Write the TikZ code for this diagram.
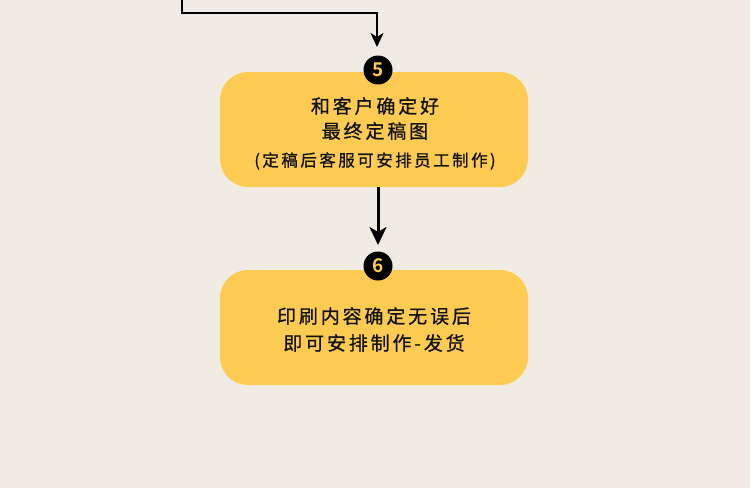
\documentclass[tikz,border=0pt]{standalone}
\usepackage{fontspec}
\newfontfamily\cjk[LetterSpace=15,FakeBold=0.8]{Noto Sans CJK SC}
\newfontfamily\cjkbold{Noto Sans CJK SC Bold}
\usetikzlibrary{arrows.meta}
\definecolor{bg}{HTML}{F0EBE3}
\definecolor{boxyellow}{HTML}{FDCB52}
\definecolor{ink}{HTML}{111111}
\tikzset{
  stepbox/.style={fill=boxyellow, draw=none, rounded corners=28pt, minimum width=308pt, minimum height=115pt, inner sep=0pt},
  numdot/.style={circle, fill=black, minimum size=29pt, inner sep=0pt, text=boxyellow, font=\cjkbold\fontsize{19pt}{19pt}\selectfont},
  txt/.style={text=ink, inner sep=0pt, anchor=center},
  thinconn/.style={draw=black, line width=1.8pt, -{Stealth[length=14pt,width=13pt,inset=4pt]}},
  thickconn/.style={draw=black, line width=3pt, -{Stealth[length=18pt,width=17pt,inset=5pt]}}
}
\begin{document}
\begin{tikzpicture}[x=1pt,y=-1pt]
\fill[bg] (0,0) rectangle (750,488);
\useasboundingbox (0,0) rectangle (750,488);
\node[stepbox] (b5) at (374,129.5) {};
\node[stepbox] (b6) at (374,327.5) {};
\node[numdot] (n5) at (378,70) {5};
\node[numdot] (n6) at (378,266) {6};
\node[txt, font=\cjk\fontsize{19pt}{19pt}\selectfont] (t5a) at (375,106) {和客户确定好};
\node[txt, font=\cjk\fontsize{19pt}{19pt}\selectfont] (t5b) at (375,131) {最终定稿图};
\node[txt, font=\cjk\fontsize{16.5pt}{16.5pt}\selectfont] (t5c) at (375,161) {(定稿后客服可安排员工制作)};
\node[txt, font=\cjk\fontsize{19pt}{19pt}\selectfont] (t6a) at (374,316) {印刷内容确定无误后};
\node[txt, font=\cjk\fontsize{19pt}{19pt}\selectfont] (t6b) at (374,343) {即可安排制作-发货};
\coordinate (top) at (182,0);
\coordinate (bend1) at (182,13);
\coordinate (bend2) at (377,13);
\coordinate (tip5) at (377,47);
\draw[thinconn] (top) -- (bend1) -- (bend2) -- (tip5);
\coordinate (tip6) at (378,245);
\draw[thickconn] (b5.south -| n5) -- (tip6);
\end{tikzpicture}
\end{document}
